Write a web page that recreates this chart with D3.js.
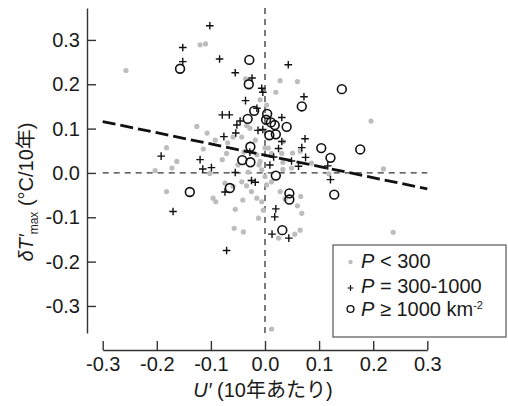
<!DOCTYPE html>
<html>
<head>
<meta charset="utf-8">
<script src="https://cdn.jsdelivr.net/npm/d3@7"></script>
<style>
  body { margin: 0; background: #fff; }
  text { font-family: "Liberation Sans", Arial, "Noto Sans CJK JP", sans-serif; fill: #1a1a1a; }
</style>
</head>
<body>
<svg id="chart" width="508" height="406"></svg>
<script>
// Trend of wind speed U' (per decade) vs. trend of daily maximum temperature δT'max (°C/decade),
// grouped by population density P.
const lowDensity = [ // P < 300
  [-0.257,0.231],[-0.120,0.289],[-0.110,0.291],[-0.036,0.212],[-0.009,0.165],[0.003,0.153],
  [0.020,0.182],[0.028,0.208],[0.060,0.206],[-0.126,0.105],[-0.107,0.090],[-0.182,0.057],
  [-0.163,0.026],[-0.114,0.054],[-0.092,0.074],[-0.069,0.068],[-0.079,0.030],[-0.071,0.044],
  [-0.043,0.081],[-0.059,0.081],[-0.034,0.107],[-0.028,0.101],[-0.203,0.005],[-0.172,0.011],
  [-0.182,-0.042],[-0.102,-0.001],[-0.074,-0.023],[-0.059,-0.030],[-0.096,-0.057],[-0.091,-0.065],
  [-0.055,-0.082],[-0.041,-0.061],[-0.034,-0.029],[-0.025,-0.042],[-0.015,-0.057],[-0.006,-0.065],
  [-0.012,-0.102],[-0.057,-0.125],[-0.040,-0.133],[-0.006,0.007],[-0.011,0.018],[0.000,-0.008],
  [-0.031,0.002],[-0.043,-0.020],[0.000,0.056],[-0.009,0.026],[-0.003,-0.084],[0.012,-0.352],
  [0.028,-0.042],[0.037,-0.059],[0.066,-0.053],[0.060,-0.074],[0.068,-0.091],[0.065,-0.129],
  [0.025,-0.147],[0.055,-0.138],[0.012,0.044],[0.031,0.044],[0.051,0.045],[0.065,0.049],
  [0.033,0.024],[0.049,0.011],[0.033,0.008],[0.086,0.022],[0.012,-0.020],[0.118,-0.002],
  [0.196,0.117],[0.219,0.009],[0.237,-0.134],[0.034,0.071],[0.006,0.056],[0.003,-0.027],
  [-0.018,0.074],[-0.039,0.047],[-0.015,0.041],[-0.050,0.018]
];
const midDensity = [ // P = 300-1000
  [-0.102,0.332],[-0.152,0.283],[-0.152,0.251],[-0.084,0.257],[-0.055,0.226],[-0.024,0.214],
  [-0.006,0.191],[-0.004,0.182],[0.043,0.244],[-0.036,0.163],[0.072,0.172],[-0.015,0.146],
  [-0.079,0.131],[-0.066,0.131],[-0.046,0.117],[0.031,0.125],[-0.052,0.108],[-0.054,0.090],
  [-0.013,0.096],[-0.004,0.098],[-0.076,0.082],[0.074,0.077],[0.031,0.071],[0.068,0.057],
  [0.025,0.055],[-0.192,0.038],[-0.028,0.047],[0.016,0.036],[0.049,0.027],[0.062,0.015],
  [0.075,0.035],[0.009,0.018],[0.116,0.016],[-0.120,0.030],[-0.115,0.009],[-0.099,0.012],
  [-0.055,0.001],[0.121,-0.015],[-0.025,-0.017],[-0.018,-0.021],[-0.074,-0.043],[-0.170,-0.087],
  [0.020,-0.081],[0.018,-0.099],[-0.071,-0.175],[0.013,-0.138],[0.044,-0.147]
];
const highDensity = [ // P >= 1000 km^-2
  [-0.029,0.255],[-0.157,0.235],[-0.030,0.200],[0.142,0.189],[0.068,0.150],[-0.020,0.140],
  [0.004,0.133],[-0.032,0.122],[0.002,0.120],[0.011,0.114],[0.018,0.108],[0.040,0.104],
  [0.008,0.085],[0.020,0.087],[-0.027,0.059],[0.104,0.056],[0.176,0.053],[0.121,0.034],
  [-0.042,0.029],[-0.027,0.024],[0.020,-0.006],[-0.065,-0.034],[-0.139,-0.043],[0.045,-0.046],
  [0.045,-0.060],[0.128,-0.049],[0.032,-0.129]
];
// Least-squares trend line end points
const fitLine = [[-0.3, 0.116], [0.3, -0.036]];

const xTicks = [-0.3, -0.2, -0.1, 0.0, 0.1, 0.2, 0.3];
const yTicks = [-0.3, -0.2, -0.1, 0.0, 0.1, 0.2, 0.3];
const xDomain = [-0.3, 0.3];
const yDomain = [-0.361, 0.372];

const svg = d3.select("#chart");
const x = d3.scaleLinear().domain(xDomain).range([102.7, 427.3]);
const y = d3.scaleLinear().domain(yDomain).range([333, 8]);
const fmt = d => d.toFixed(1);

// Axes (detached, inward ticks)
const yAxis = svg.append("g").attr("transform", "translate(87,0)")
  .call(d3.axisLeft(y).tickValues(yTicks).tickFormat(fmt).tickSize(-9).tickSizeOuter(0).tickPadding(7));
const xAxis = svg.append("g").attr("transform", "translate(0,350)")
  .call(d3.axisBottom(x).tickValues(xTicks).tickFormat(fmt).tickSize(-9).tickSizeOuter(0).tickPadding(7));
[yAxis, xAxis].forEach(g => {
  g.selectAll("path.domain").attr("stroke", "#333").attr("stroke-width", 1.4);
  g.selectAll(".tick line").attr("stroke", "#333").attr("stroke-width", 1.4);
  g.selectAll(".tick text").style("font-size", "20px").attr("fill", "#1a1a1a")
    .style("font-family", '"Liberation Sans", Arial, sans-serif');
});

// Zero reference lines
svg.append("line")
  .attr("x1", x(0)).attr("x2", x(0)).attr("y1", y(yDomain[1])).attr("y2", y(yDomain[0]))
  .attr("stroke", "#333").attr("stroke-width", 1.3).attr("stroke-dasharray", "6,5");
svg.append("line")
  .attr("x1", x(xDomain[0])).attr("x2", x(xDomain[1])).attr("y1", y(0)).attr("y2", y(0))
  .attr("stroke", "#333").attr("stroke-width", 1.3).attr("stroke-dasharray", "6,5");

// Points
svg.append("g").selectAll("circle").data(lowDensity).join("circle")
  .attr("cx", d => x(d[0])).attr("cy", d => y(d[1])).attr("r", 2.6)
  .attr("fill", "#bdbdbd");

const plusPath = "M-3.8,0H3.8M0,-3.8V3.8";
svg.append("g").selectAll("path").data(midDensity).join("path")
  .attr("d", plusPath)
  .attr("transform", d => `translate(${x(d[0])},${y(d[1])})`)
  .attr("stroke", "#111").attr("stroke-width", 1.4).attr("fill", "none");

svg.append("g").selectAll("circle").data(highDensity).join("circle")
  .attr("cx", d => x(d[0])).attr("cy", d => y(d[1])).attr("r", 4.4)
  .attr("fill", "none").attr("stroke", "#111").attr("stroke-width", 1.6);

// Trend line
svg.append("path")
  .attr("d", d3.line().x(d => x(d[0])).y(d => y(d[1]))(fitLine))
  .attr("stroke", "#111").attr("stroke-width", 2.8).attr("fill", "none")
  .attr("stroke-dasharray", "13,5");

// Axis titles
const yTitle = svg.append("text")
  .attr("transform", "translate(33,192) rotate(-90)")
  .attr("text-anchor", "middle").style("font-size", "20px");
yTitle.append("tspan").style("font-style", "italic").text("δT′");
yTitle.append("tspan").style("font-size", "12px").attr("dy", 5).text("max");
yTitle.append("tspan").attr("dy", -5).text(" (°C/10年)");

const xTitle = svg.append("text")
  .attr("x", 263).attr("y", 397).attr("text-anchor", "middle").style("font-size", "20px");
xTitle.append("tspan").style("font-style", "italic").text("U′");
xTitle.append("tspan").text(" (10年あたり)");

// Legend
const legend = svg.append("g");
legend.append("rect").attr("x", 333).attr("y", 245).attr("width", 173).attr("height", 92)
  .attr("fill", "#fff").attr("stroke", "#555").attr("stroke-width", 1.2);
const rowY = [262, 288, 309];
legend.append("circle").attr("cx", 350.5).attr("cy", rowY[0]).attr("r", 2.2).attr("fill", "#bdbdbd");
legend.append("path").attr("d", "M-3,0H3M0,-3V3").attr("transform", `translate(350.5,${rowY[1]})`)
  .attr("stroke", "#111").attr("stroke-width", 1.2);
legend.append("circle").attr("cx", 350.5).attr("cy", rowY[2]).attr("r", 3.4)
  .attr("fill", "none").attr("stroke", "#111").attr("stroke-width", 1.4);

const legendRows = [
  {p: "P", rest: " < 300", sup: null},
  {p: "P", rest: " = 300-1000", sup: null},
  {p: "P", rest: " ≥ 1000 km", sup: "-2"}
];
const textY = [268, 293, 316];
legendRows.forEach((r, i) => {
  const t = legend.append("text").attr("x", 361).attr("y", textY[i]).style("font-size", "20px");
  t.append("tspan").style("font-style", "italic").text(r.p);
  t.append("tspan").text(r.rest);
  if (r.sup) t.append("tspan").style("font-size", "11px").attr("dy", -7).text(r.sup);
});
</script>
</body>
</html>
